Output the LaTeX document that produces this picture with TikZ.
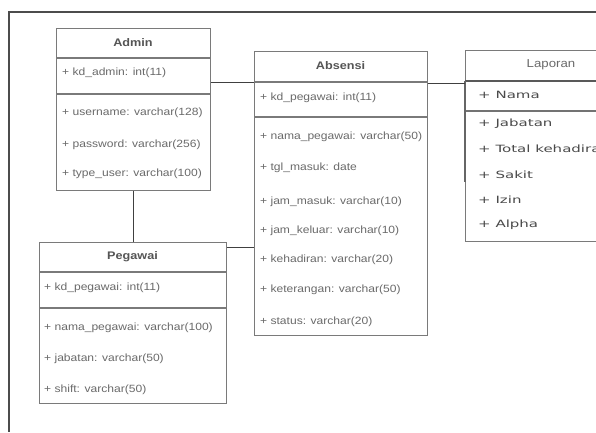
\documentclass[tikz,border=0pt]{standalone}
\usepackage{fontspec}
\setmainfont{Liberation Sans}
\newfontfamily\lapfont{DejaVu Sans}
\usepackage{graphicx}
\definecolor{boxgray}{HTML}{7A7A7A}
\definecolor{txtgray}{HTML}{6A6A6A}
\definecolor{hdrgray}{HTML}{555555}
\definecolor{lapgray}{HTML}{4A4A4A}
\newcommand\fx[1]{\scalebox{1.15}[1]{#1}}
\newcommand\lx[1]{\scalebox{1.5}[1]{#1}}
\begin{document}
\begin{tikzpicture}[x=1pt,y=-1pt,
  box/.style={draw=boxgray, line width=1.1pt, fill=white, inner sep=0pt, anchor=north west},
  divider/.style={draw=boxgray, line width=1.1pt},
  conn/.style={draw=black!75, line width=0.9pt},
  field/.style={anchor=west, inner sep=0pt, text=txtgray, font=\fontsize{10.5}{12}\selectfont},
  hdr/.style={anchor=center, inner sep=0pt, text=hdrgray, font=\fontsize{11}{13}\selectfont\bfseries},
  laphdr/.style={anchor=center, inner sep=0pt, text=txtgray, font=\fontsize{11.5}{13}\selectfont},
  lapfield/.style={anchor=west, inner sep=0pt, text=lapgray, font=\lapfont\fontsize{10}{12}\selectfont}]
\clip (0,0) rectangle (596,432);
\fill[white] (0,0) rectangle (596,432);
% outer frame
\draw[line width=2pt, draw=black!70] (596,11.5) -- (8.5,11.5) -- (8.5,432);

% boxes
\node[box, minimum width=154pt, minimum height=162pt] (admin) at (56,28) {};
\node[box, minimum width=187pt, minimum height=161pt] (pegawai) at (39,242) {};
\node[box, minimum width=173pt, minimum height=284pt] (absensi) at (254,51) {};
\node[box, minimum width=172pt, minimum height=191pt] (laporan) at (465,50) {};

% dividers
\draw[divider] (56,58) -- (210,58);
\draw[divider] (56,94) -- (210,94);
\draw[divider] (39,272) -- (226,272);
\draw[divider] (39,308) -- (226,308);
\draw[divider] (254,82) -- (427,82);
\draw[divider] (254,117) -- (427,117);
\draw[divider, line width=1.8pt, draw=black!65] (465,81) -- (637,81);
\draw[divider, line width=1.5pt, draw=black!55] (465,111) -- (637,111);
\draw[line width=2pt, draw=black!60] (465,81) -- (465,182);

% connectors
\coordinate (c1) at (0,82);
\coordinate (c2) at (0,247);
\coordinate (c3) at (0,83);
\draw[conn] (admin.east |- c1) -- (absensi.west |- c1);
\draw[conn] (admin.south) -- (admin.south |- pegawai.north);
\draw[conn] (pegawai.east |- c2) -- (absensi.west |- c2);
\draw[conn] (absensi.east |- c3) -- (laporan.west |- c3);

% Admin
\node[hdr] (adminH) at (133,43) {\fx{Admin}};
\node[field] (a1) at (62,73) {\fx{+ kd\_admin: int(11)}};
\node[field] (a2) at (62,113) {\fx{+ username: varchar(128)}};
\node[field] (a3) at (62,145) {\fx{+ password: varchar(256)}};
\node[field] (a4) at (62,174) {\fx{+ type\_user: varchar(100)}};

% Pegawai
\node[hdr] (pegawaiH) at (132.5,257) {\fx{Pegawai}};
\node[field] (p1) at (44,288) {\fx{+ kd\_pegawai: int(11)}};
\node[field] (p2) at (44,328) {\fx{+ nama\_pegawai: varchar(100)}};
\node[field] (p3) at (44,359) {\fx{+ jabatan: varchar(50)}};
\node[field] (p4) at (44,390) {\fx{+ shift: varchar(50)}};

% Absensi
\node[hdr] (absensiH) at (340.5,66) {\fx{Absensi}};
\node[field] (b1) at (260,98) {\fx{+ kd\_pegawai: int(11)}};
\node[field] (b2) at (260,137) {\fx{+ nama\_pegawai: varchar(50)}};
\node[field] (b3) at (260,168) {\fx{+ tgl\_masuk: date}};
\node[field] (b4) at (260,202) {\fx{+ jam\_masuk: varchar(10)}};
\node[field] (b5) at (260,231) {\fx{+ jam\_keluar: varchar(10)}};
\node[field] (b6) at (260,260) {\fx{+ kehadiran: varchar(20)}};
\node[field] (b7) at (260,290) {\fx{+ keterangan: varchar(50)}};
\node[field] (b8) at (260,322) {\fx{+ status: varchar(20)}};

% Laporan
\node[laphdr] (laporanH) at (551,65) {\fx{Laporan}};
\node[lapfield] (l1) at (478,95) {\lx{+ Nama}};
\node[lapfield] (l2) at (478,124) {\lx{+ Jabatan}};
\node[lapfield] (l3) at (478,149) {\lx{+ Total kehadiran}};
\node[lapfield] (l4) at (478,175) {\lx{+ Sakit}};
\node[lapfield] (l5) at (478,200) {\lx{+ Izin}};
\node[lapfield] (l6) at (478,225) {\lx{+ Alpha}};
\end{tikzpicture}
\end{document}
